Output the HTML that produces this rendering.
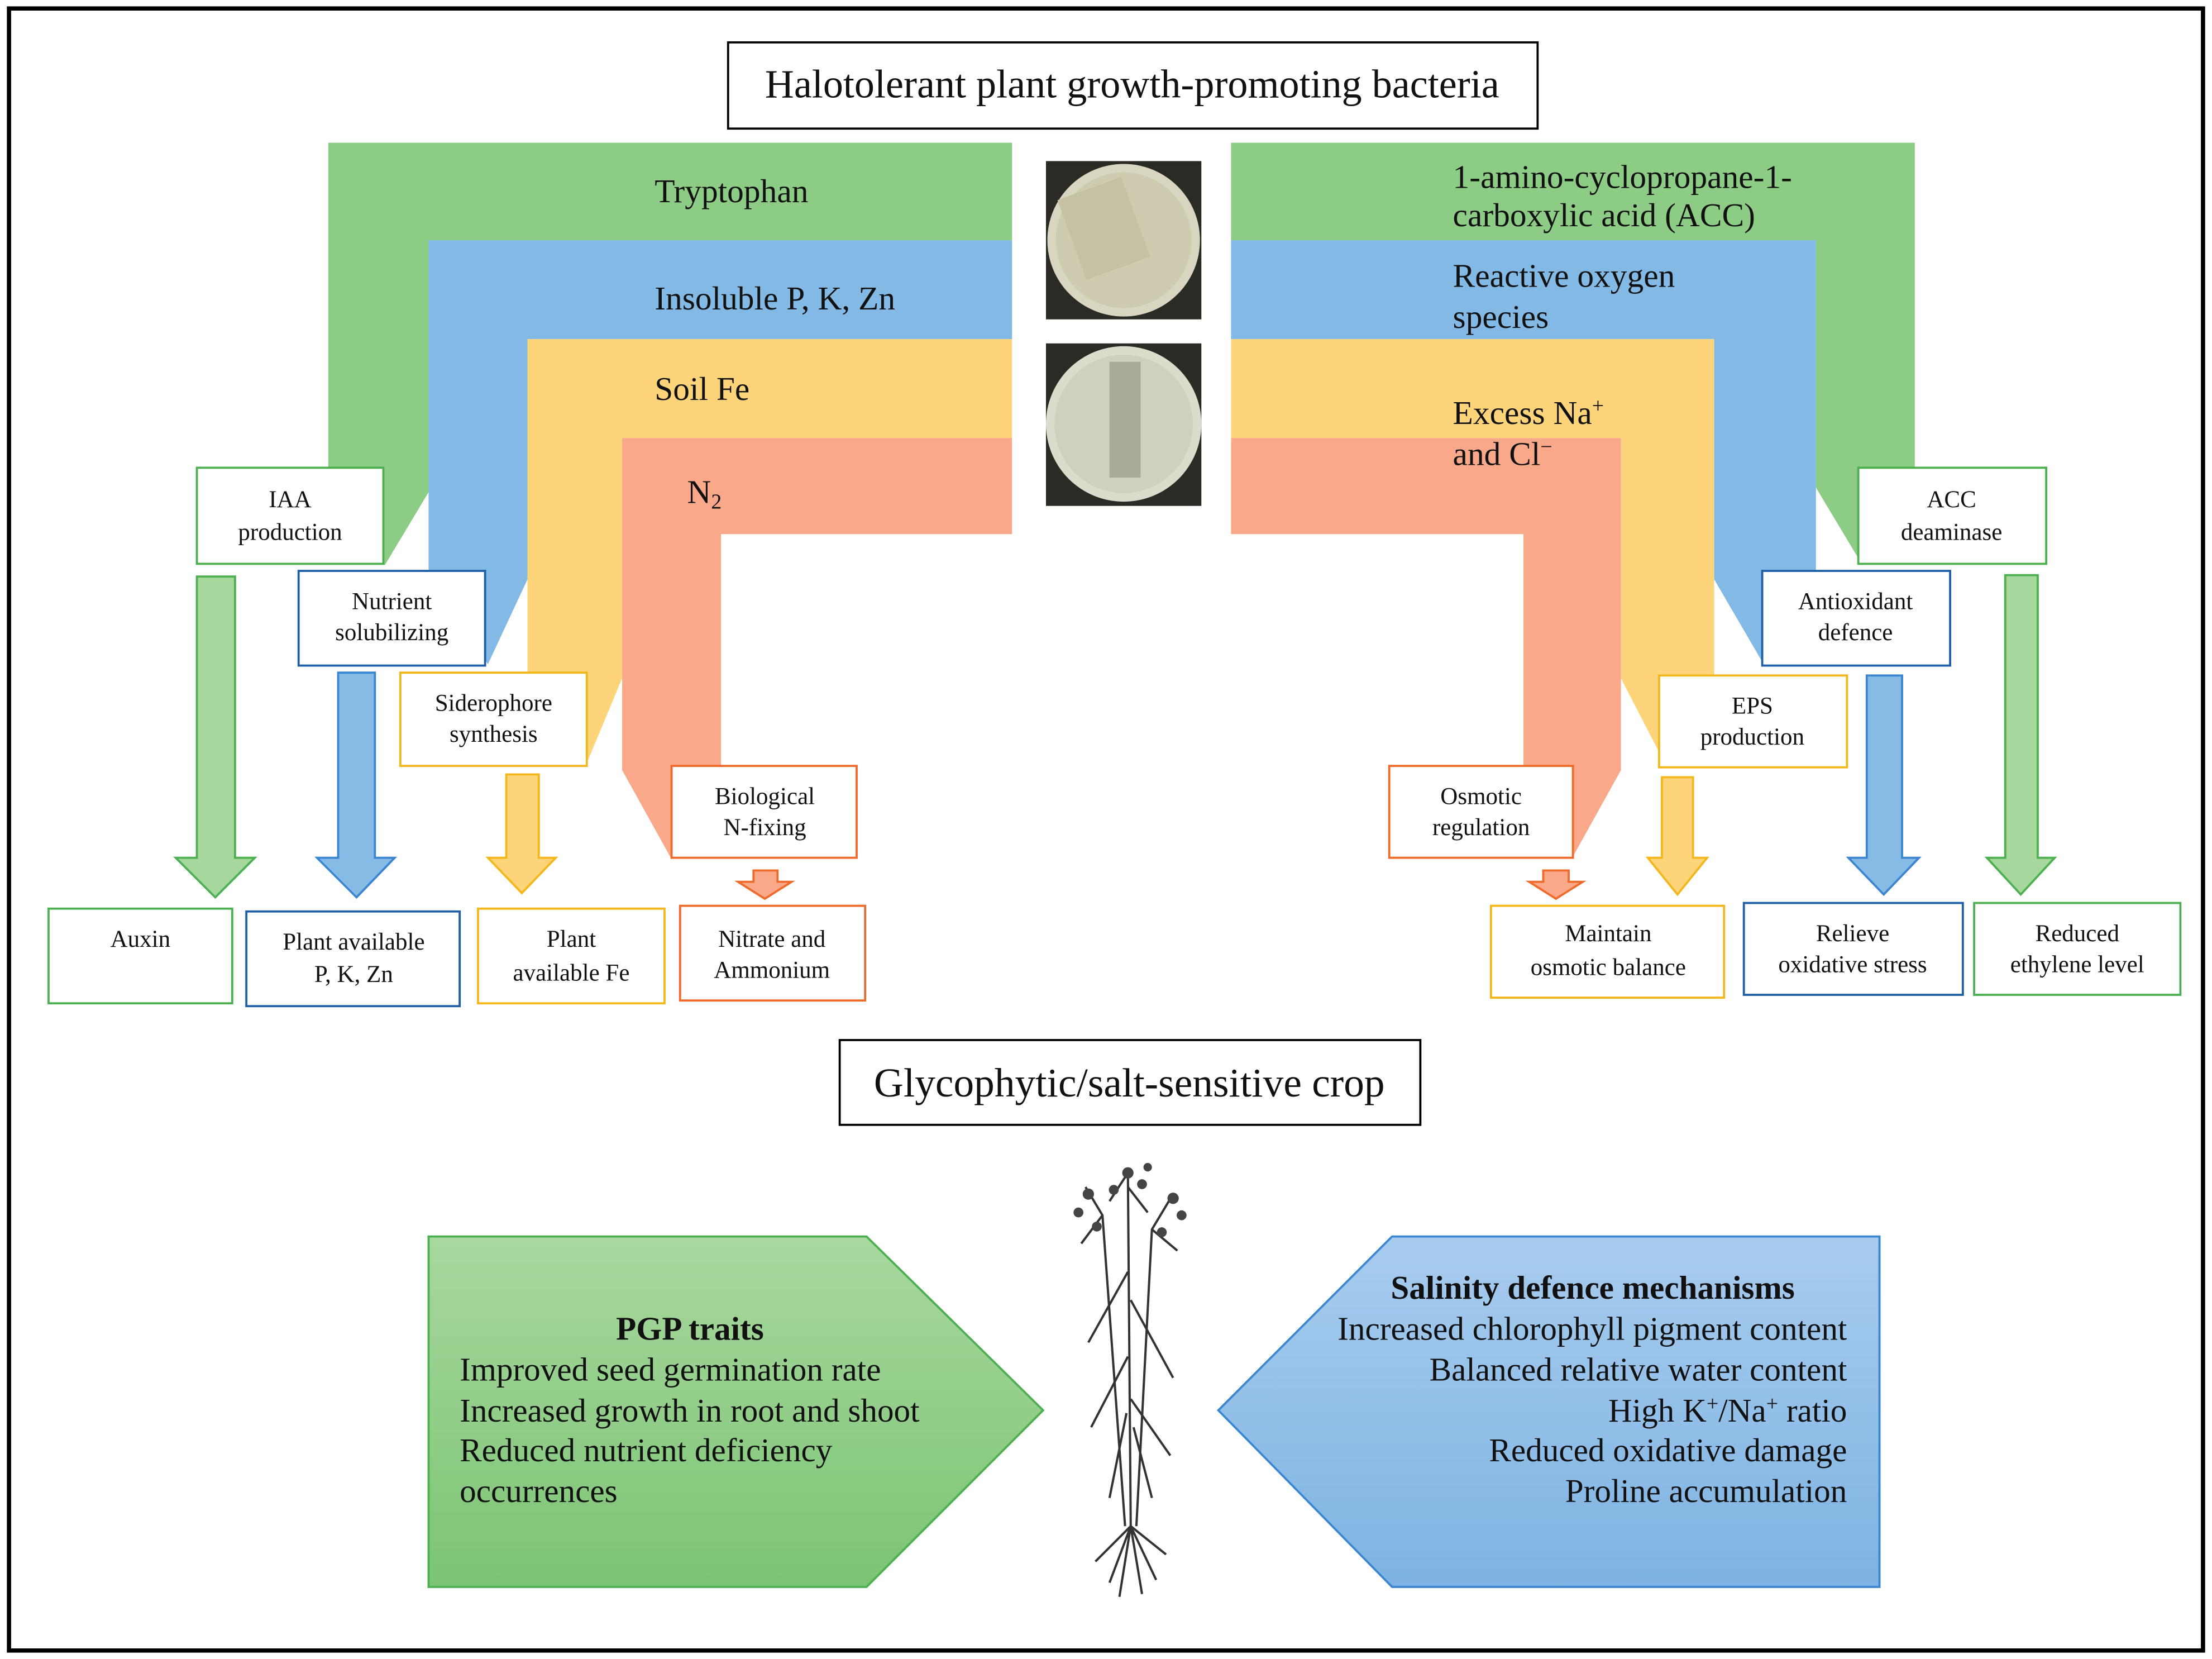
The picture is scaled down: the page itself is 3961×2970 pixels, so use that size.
<!DOCTYPE html>
<html><head><meta charset="utf-8"><style>
html,body{margin:0;padding:0;background:#fff}
svg{display:block}
text{font-family:"Liberation Serif",serif;fill:#111}
</style></head><body>
<svg width="3961" height="2970" viewBox="0 0 1565 1174" xmlns="http://www.w3.org/2000/svg">
<defs>
<linearGradient id="gg" x1="0" y1="0" x2="0" y2="1"><stop offset="0" stop-color="#a8d89e"/><stop offset="1" stop-color="#7cc474"/></linearGradient>
<linearGradient id="bg" x1="0" y1="0" x2="0" y2="1"><stop offset="0" stop-color="#a8ccee"/><stop offset="1" stop-color="#7db3e2"/></linearGradient>
</defs>
<rect x="0" y="0" width="1565" height="1174" fill="#fff"/>
<rect x="6" y="6" width="1553" height="1162" fill="none" stroke="#000" stroke-width="3"/>
<rect x="515" y="30" width="573" height="61" fill="#fff" stroke="#000" stroke-width="1.5"/>
<text x="801" y="69" font-size="28.5" text-anchor="middle">Halotolerant plant growth-promoting bacteria</text>

<polygon points="232,101 716,101 716,170 305,170 305,345 272,400 232,345" fill="#8ccc84"/>
<polygon points="303,170 716,170 716,240 373,240 373,410 345,470 303,410" fill="#82b9e5"/>
<polygon points="373,240 716,240 716,310 440,310 440,480 415,540 373,480" fill="#fdd47a"/>
<polygon points="440,310 716,310 716,378 510,378 510,545 475,608 440,545" fill="#f9a98a"/>
<polygon points="871,101 1355,101 1355,345 1318,400 1285,345 1285,170 871,170" fill="#8ccc84"/>
<polygon points="871,170 1285,170 1285,410 1248,470 1213,410 1213,240 871,240" fill="#82b9e5"/>
<polygon points="871,240 1213,240 1213,480 1178,540 1147,480 1147,310 871,310" fill="#fdd47a"/>
<polygon points="871,310 1147,310 1147,545 1112,608 1078,545 1078,378 871,378" fill="#f9a98a"/>

<g font-size="23.5">
<text x="463" y="143">Tryptophan</text>
<text x="463" y="219">Insoluble P, K, Zn</text>
<text x="463" y="283">Soil Fe</text>
<text x="486" y="356">N<tspan font-size="15" dy="4">2</tspan></text>
<text x="1028" y="133">1-amino-cyclopropane-1-</text>
<text x="1028" y="160">carboxylic acid (ACC)</text>
<text x="1028" y="203">Reactive oxygen</text>
<text x="1028" y="232">species</text>
<text x="1028" y="300">Excess Na<tspan font-size="15" dy="-8">+</tspan></text>
<text x="1028" y="329">and Cl<tspan font-size="15" dy="-8">−</tspan></text>
</g>

<rect x="740" y="114" width="110" height="112" fill="#2b2a25"/>
<circle cx="795" cy="170" r="54" fill="#d9d6bf"/>
<circle cx="795" cy="170" r="48" fill="#cfcbb0"/>
<rect x="757" y="132" width="48" height="60" fill="#c5c1a5" transform="rotate(-20 780 162)"/>
<rect x="740" y="243" width="110" height="115" fill="#2b2a25"/>
<circle cx="795" cy="300" r="55" fill="#dcdccc"/>
<circle cx="795" cy="300" r="49" fill="#cfd0c0"/>
<rect x="785" y="256" width="22" height="82" fill="#a9aa98"/>

<g fill="#fff" stroke-width="1.5">
<rect x="139" y="331" width="132" height="68" stroke="#4caf50"/>
<rect x="211" y="404" width="132" height="67" stroke="#1f5fa8"/>
<rect x="283" y="476" width="132" height="66" stroke="#f3b71c"/>
<rect x="475" y="542" width="131" height="65" stroke="#f06a2a"/>
<rect x="1315" y="331" width="133" height="68" stroke="#4caf50"/>
<rect x="1247" y="404" width="133" height="67" stroke="#1f5fa8"/>
<rect x="1174" y="478" width="133" height="65" stroke="#f3b71c"/>
<rect x="983" y="542" width="130" height="65" stroke="#f06a2a"/>
<rect x="34" y="643" width="130" height="67" stroke="#4caf50"/>
<rect x="174" y="645" width="151" height="67" stroke="#1f5fa8"/>
<rect x="338" y="643" width="132" height="67" stroke="#f3b71c"/>
<rect x="481" y="641" width="131" height="67" stroke="#f06a2a"/>
<rect x="1055" y="641" width="165" height="65" stroke="#f3b71c"/>
<rect x="1234" y="639" width="155" height="65" stroke="#1f5fa8"/>
<rect x="1397" y="639" width="146" height="65" stroke="#4caf50"/>
</g>
<g font-size="17" text-anchor="middle">
<text x="205" y="359">IAA</text><text x="205" y="382">production</text>
<text x="277" y="431">Nutrient</text><text x="277" y="453">solubilizing</text>
<text x="349" y="503">Siderophore</text><text x="349" y="525">synthesis</text>
<text x="541" y="569">Biological</text><text x="541" y="591">N-fixing</text>
<text x="1381" y="359">ACC</text><text x="1381" y="382">deaminase</text>
<text x="1313" y="431">Antioxidant</text><text x="1313" y="453">defence</text>
<text x="1240" y="505">EPS</text><text x="1240" y="527">production</text>
<text x="1048" y="569">Osmotic</text><text x="1048" y="591">regulation</text>
<text x="99" y="670">Auxin</text>
<text x="250" y="672">Plant available</text><text x="250" y="695">P, K, Zn</text>
<text x="404" y="670">Plant</text><text x="404" y="694">available Fe</text>
<text x="546" y="670">Nitrate and</text><text x="546" y="692">Ammonium</text>
<text x="1138" y="666">Maintain</text><text x="1138" y="690">osmotic balance</text>
<text x="1311" y="666">Relieve</text><text x="1311" y="688">oxidative stress</text>
<text x="1470" y="666">Reduced</text><text x="1470" y="688">ethylene level</text>
</g>

<g stroke-width="1.5">
<polygon points="139,408 166,408 166,607 180,607 152,635 124,607 139,607" fill="#a6d79d" stroke="#4caf50"/>
<polygon points="239,476 265,476 265,607 279,607 252,635 224,607 239,607" fill="#86bbe6" stroke="#3b86d0"/>
<polygon points="358,548 381,548 381,607 393,607 369,632 345,607 358,607" fill="#fdd47a" stroke="#f3b71c"/>
<polygon points="533,616 550,616 550,624 560,624 541,636 522,624 533,624" fill="#f9a98a" stroke="#f06a2a"/>
<polygon points="1092,616 1110,616 1110,624 1120,624 1101,636 1082,624 1092,624" fill="#f9a98a" stroke="#f06a2a"/>
<polygon points="1176,550 1198,550 1198,607 1208,607 1187,633 1166,607 1176,607" fill="#fdd47a" stroke="#f3b71c"/>
<polygon points="1321,478 1346,478 1346,607 1358,607 1333,633 1308,607 1321,607" fill="#86bbe6" stroke="#3b86d0"/>
<polygon points="1419,407 1442,407 1442,607 1454,607 1430,633 1406,607 1419,607" fill="#a6d79d" stroke="#4caf50"/>
</g>

<rect x="594" y="736" width="411" height="60" fill="#fff" stroke="#000" stroke-width="1.5"/>
<text x="799" y="776" font-size="29" text-anchor="middle">Glycophytic/salt-sensitive crop</text>

<polygon points="303,875 613,875 738,998 613,1123 303,1123" fill="url(#gg)" stroke="#4caf50" stroke-width="1.5"/>
<polygon points="862,998 985,875 1330,875 1330,1123 985,1123" fill="url(#bg)" stroke="#3b86d0" stroke-width="1.5"/>
<g font-size="23.4">
<text x="488" y="948" text-anchor="middle" font-weight="bold">PGP traits</text>
<text x="325" y="977">Improved seed germination rate</text>
<text x="325" y="1006">Increased growth in root and shoot</text>
<text x="325" y="1034">Reduced nutrient deficiency</text>
<text x="325" y="1063">occurrences</text>
<g text-anchor="end">
<text x="1270" y="919" font-weight="bold">Salinity defence mechanisms</text>
<text x="1307" y="948">Increased chlorophyll pigment content</text>
<text x="1307" y="977">Balanced relative water content</text>
<text x="1307" y="1006">High K<tspan font-size="15" dy="-8">+</tspan><tspan dy="8">/Na</tspan><tspan font-size="15" dy="-8">+</tspan><tspan dy="8"> ratio</tspan></text>
<text x="1307" y="1034">Reduced oxidative damage</text>
<text x="1307" y="1063">Proline accumulation</text>
</g>
</g>

<g stroke="#333" stroke-width="1.6" fill="none">
<path d="M800,1080 L798,830"/>
<path d="M796,1080 L780,860 L768,840"/>
<path d="M804,1080 L815,870 L830,845"/>
<path d="M798,900 L770,950"/><path d="M800,920 L830,975"/>
<path d="M798,960 L772,1010"/><path d="M800,990 L828,1030"/>
<path d="M797,1000 L785,1060"/><path d="M802,1010 L815,1060"/>
<path d="M798,830 L785,850 M798,840 L812,858 M780,860 L765,880 M815,870 L833,885"/>
<path d="M800,1080 L785,1120 M800,1080 L792,1130 M800,1080 L808,1128 M800,1080 L818,1118 M800,1080 L775,1105 M800,1080 L825,1100"/>
</g>
<g fill="#444">
<circle cx="798" cy="830" r="4"/><circle cx="788" cy="842" r="3.5"/><circle cx="808" cy="838" r="3.5"/>
<circle cx="770" cy="845" r="4"/><circle cx="763" cy="858" r="3.5"/><circle cx="830" cy="848" r="4"/><circle cx="836" cy="860" r="3.5"/>
<circle cx="776" cy="868" r="3.5"/><circle cx="822" cy="872" r="3.5"/><circle cx="812" cy="826" r="3"/>
</g>
</svg>
</body></html>
